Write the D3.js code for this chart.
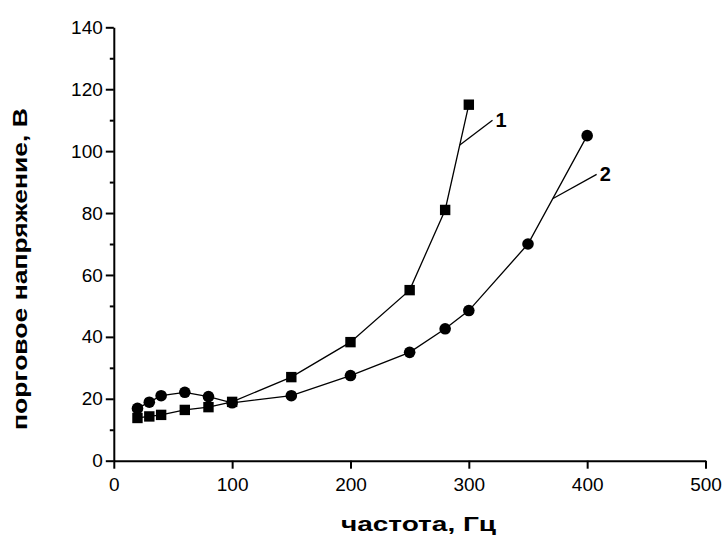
<!DOCTYPE html>
<html>
<head>
<meta charset="utf-8">
<script src="https://cdn.jsdelivr.net/npm/d3@7"></script>
<style>
body { margin: 0; background: #fff; }
svg { display: block; }
text { font-family: Arial, "Liberation Sans", sans-serif; }
</style>
</head>
<body>
<svg id="chart" width="725" height="536"></svg>
<script>
const freq1 = [20, 30, 40, 60, 80, 100, 150, 200, 250, 280, 300];
const volt1 = [13.8, 14.3, 14.8, 16.4, 17.3, 19, 27, 38.3, 55.1, 81, 115];
const freq2 = [20, 30, 40, 60, 80, 100, 150, 200, 250, 280, 300, 350, 400];
const volt2 = [16.9, 18.9, 21, 22.1, 20.7, 18.7, 21, 27.5, 35, 42.6, 48.5, 70, 105];
const seriesLabels = ["1", "2"];
// leader lines in data coordinates [x, y] start -> end
const leader1 = [[292.4, 102], [320, 110]];
const leader2 = [[371.2, 84.7], [408, 92.5]];
const xTicks = [0, 100, 200, 300, 400, 500];
const yTicks = [0, 20, 40, 60, 80, 100, 120, 140];
const yMinorTicks = [10, 30, 50, 70, 90, 110, 130];
const xTitle = "частота, Гц";
const yTitle = "порговое напряжение, В";

const svg = d3.select("#chart");
const x = d3.scaleLinear().domain([0, 500]).range([113.8, 705.5]);
const y = d3.scaleLinear().domain([0, 140]).range([460.7, 27.3]);

// axes
const xAxis = d3.axisBottom(x).tickValues(xTicks).tickSize(8).tickSizeOuter(0).tickPadding(9);
svg.append("g").attr("transform", `translate(0,${y(0)})`).call(xAxis);
const yAxis = d3.axisLeft(y).tickValues(yTicks).tickSize(8).tickSizeOuter(0).tickPadding(3);
svg.append("g").attr("transform", `translate(${x(0)},0)`).call(yAxis);
svg.append("g").attr("transform", `translate(${x(0)},0)`)
  .call(d3.axisLeft(y).tickValues(yMinorTicks).tickSize(4).tickSizeOuter(0).tickFormat(""))
  .select(".domain").remove();
svg.selectAll(".domain").attr("stroke", "#000").attr("stroke-width", 2);
svg.selectAll(".tick line").attr("stroke", "#000").attr("stroke-width", 2);
svg.selectAll(".tick text").attr("font-size", 19).attr("fill", "#000")
  .attr("font-family", "Arial, 'Liberation Sans', sans-serif");

// titles
svg.append("text").attr("x", 418.5).attr("y", 531).attr("text-anchor", "middle")
  .attr("font-size", 21).attr("font-weight", "bold")
  .attr("textLength", 155).attr("lengthAdjust", "spacingAndGlyphs").text(xTitle);
svg.append("text").attr("transform", "translate(27,269) rotate(-90)").attr("text-anchor", "middle")
  .attr("font-size", 21).attr("font-weight", "bold")
  .attr("textLength", 322).attr("lengthAdjust", "spacingAndGlyphs").text(yTitle);

const line = d3.line().x(d => x(d[0])).y(d => y(d[1]));
const s1 = freq1.map((f, i) => [f, volt1[i]]);
const s2 = freq2.map((f, i) => [f, volt2[i]]);

svg.append("path").datum(s1).attr("d", line).attr("fill", "none").attr("stroke", "#000").attr("stroke-width", 1.3);
svg.append("path").datum(s2).attr("d", line).attr("fill", "none").attr("stroke", "#000").attr("stroke-width", 1.3);

svg.selectAll(".sq").data(s1).join("rect").attr("class", "sq")
  .attr("x", d => x(d[0]) - 5.2).attr("y", d => y(d[1]) - 5.2)
  .attr("width", 10.4).attr("height", 10.4).attr("fill", "#000");
svg.selectAll(".ci").data(s2).join("circle").attr("class", "ci")
  .attr("cx", d => x(d[0])).attr("cy", d => y(d[1])).attr("r", 5.8).attr("fill", "#000");

// leaders and labels
[leader1, leader2].forEach((l, i) => {
  svg.append("path").datum(l).attr("d", line).attr("fill", "none").attr("stroke", "#000").attr("stroke-width", 1.3);
  svg.append("text").attr("x", x(l[1][0]) + 3).attr("y", y(l[1][1]) + 7)
    .attr("font-size", 20).attr("font-weight", "bold").text(seriesLabels[i]);
});
</script>
</body>
</html>
